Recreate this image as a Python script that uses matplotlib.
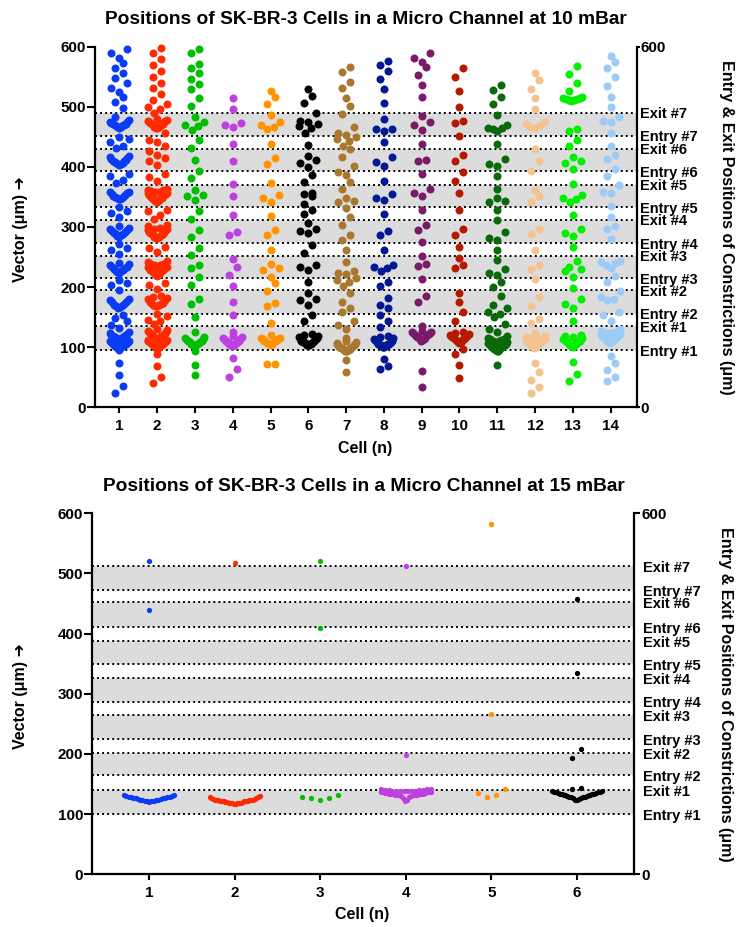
import numpy as np
import matplotlib
matplotlib.use("Agg")
import matplotlib.pyplot as plt
from matplotlib.ticker import FixedLocator, FuncFormatter

plt.rcParams['font.family'] = ['Liberation Sans', 'DejaVu Sans']
plt.rcParams['font.weight'] = 'bold'

# ---------------- data : 10 mBar ----------------
cells_10 = list(range(1, 15))
c10_1 = [24, 36, 54, 74,
         96, 98, 99, 100, 101, 101, 102, 103, 103, 104, 105, 105, 106, 107, 107, 108, 109, 110, 111, 112,
         114, 115, 116, 116, 117, 118, 119, 120, 121, 122, 123, 125,
         132, 137, 144, 148, 153,
         166, 167, 168, 170, 171, 173, 175, 177, 179, 181,
         195, 203, 207, 211,
         224, 225, 226, 227, 229, 230, 231, 233, 234, 236, 238, 240,
         255, 261, 265, 271,
         284, 285, 286, 288, 289, 290, 292, 293, 295, 297, 299, 301,
         316, 323, 327, 333,
         346, 347, 348, 349, 350, 351, 352, 353, 355, 356, 358, 359,
         374, 379, 385, 389,
         403, 404, 405, 406, 407, 408, 409, 410, 412, 413, 415, 417, 418,
         431, 435, 441, 446, 450,
         465, 466, 467, 468, 469, 469, 470, 471, 472, 473, 474, 475, 478,
         483, 498, 508, 517, 525, 531, 539, 548, 557, 565, 573, 581, 589, 596]
c10_2 = [40, 51, 68, 89,
         97, 98, 99, 99, 100, 100, 101, 101, 102, 102, 103, 103, 104, 104, 105, 105, 106, 106, 107, 107,
         108, 108, 109, 109, 110, 110, 111, 111, 112, 112, 113, 114, 114, 115, 116, 116, 117, 118, 118,
         119, 120, 120, 121, 122, 123, 124, 125, 126, 127, 128, 130,
         139, 143, 146, 152, 156,
         168, 169, 170, 171, 172, 173, 174, 176, 178, 180, 182, 184, 186,
         197, 204, 207,
         219, 220, 222, 223, 224, 225, 226, 227, 228, 229, 230, 231, 232, 233, 234, 235, 236, 237, 238,
         239, 241, 243,
         258, 265, 267,
         281, 282, 283, 284, 285, 286, 287, 288, 289, 290, 291, 292, 294, 295, 296, 297, 299, 301, 303,
         314, 320, 326, 328,
         342, 343, 344, 345, 346, 346, 347, 348, 348, 349, 350, 351, 352, 353, 354, 355, 356, 357, 358,
         359, 360, 361, 362, 364,
         377, 384, 389, 403, 409, 414, 420, 427, 435, 441, 445, 456,
         464, 465, 466, 467, 468, 469, 470, 471, 472, 473, 474, 475, 476, 477, 478, 480,
         490, 496, 500, 505, 511, 521, 531, 540, 549, 560, 570, 579, 589, 598]
c10_3 = [54, 70, 93,
         102, 103, 104, 105, 106, 107, 108, 109, 110, 111, 112, 113, 115, 117,
         126, 150, 172, 181, 203, 217, 232, 236, 253, 265, 283, 295, 314, 326, 345, 351, 353, 361,
         382, 394, 412, 432, 445, 461, 468, 470, 474, 483, 502, 515, 529, 538, 547, 557, 564, 572,
         589, 597]
c10_4 = [50, 63, 82,
         102, 103, 104, 104, 105, 106, 106, 107, 108, 108, 109, 110, 110, 111, 112, 113, 114, 115,
         116, 117, 118,
         126, 154, 176, 202, 220, 233, 246, 287, 291, 320, 351, 372, 409, 438, 467, 469, 473, 496, 514]
c10_5 = [72, 72.5,
         104, 105, 106, 107, 108, 109, 110, 111, 112, 113, 114, 115, 116,
         121, 141, 169, 174, 194, 206, 216, 229, 231, 239, 262, 287, 295, 318, 341, 349, 353, 373,
         404, 414, 438, 463, 467, 470, 474, 487, 504, 516, 526]
c10_6 = [103, 104, 104, 105, 105, 106, 106, 107, 107, 108, 108, 109, 109, 110, 110, 111, 112, 113,
         114, 115, 116, 117, 118, 121, 122,
         143, 154, 170, 179, 179.5, 191, 209, 229, 234, 237, 256, 270, 290, 293, 296, 306, 322, 328,
         338, 351, 355, 357, 375, 387, 400, 407, 412, 418, 437, 457, 464, 468, 471, 475, 477, 489,
         506, 518, 529]
c10_7 = [58, 78,
         93, 94, 94, 95, 95, 96, 96, 97, 97, 98, 98, 99, 99, 100, 100, 101, 102, 103, 104, 105, 106,
         107, 108, 110,
         115, 131, 137, 143, 159, 165, 176, 190, 201, 209, 211, 215, 221, 223, 226, 241, 261, 278,
         287, 303, 317, 331, 341, 343, 348, 364, 375, 387, 392, 402, 417, 430, 435, 443, 446, 449.5,
         453, 456, 467, 488, 502, 514, 531, 542, 558, 567]
c10_8 = [63, 68, 81,
         100, 101, 101, 102, 102, 103, 103, 104, 104, 105, 105, 106, 106, 107, 108, 109, 110, 111,
         112, 113, 114, 115, 117, 118,
         134, 143, 153, 166, 171, 182, 201, 209, 227, 231, 234, 237, 261, 286, 294, 321, 345, 348,
         355, 377, 402, 408, 417, 441, 460, 463, 463.5, 480, 507, 530, 547, 560, 570, 576]
c10_9 = [34, 61,
         111, 112, 113, 114, 115, 116, 117, 118, 119, 120, 121, 122, 123, 124, 125, 126, 127,
         135, 175, 186, 214, 235, 239, 251, 275, 295, 303, 329, 352, 356, 363, 388, 410, 411.5,
         438, 461, 469, 474, 485, 516, 536, 553, 566, 575, 582, 589]
c10_10 = [49, 70, 89, 97,
          107, 108, 109, 110, 111, 112, 113, 113, 114, 115, 116, 117, 118, 119, 120, 121, 122, 124, 126,
          144, 158, 175, 191, 231, 237, 249, 267, 287, 297, 328, 356, 377, 392, 410, 419, 451, 473,
          477, 499, 527, 549, 564]
c10_11 = [70,
          93, 94, 95, 96, 97, 98, 99, 100, 100, 101, 102, 103, 104, 104, 105, 106, 107, 108, 109, 110,
          111, 112, 113, 114, 116, 118,
          126, 131, 139, 151, 156, 159, 165, 170, 185, 200, 209, 220, 223, 230, 245, 262, 278, 282,
          291, 311, 328, 341, 342.5, 348, 364, 385, 402, 404, 413, 438, 460, 462.5, 464, 465.5, 469,
          486, 504, 517, 528, 537]
c10_12 = [23, 33, 46, 58, 73,
          99, 100, 101, 102, 103, 104, 104, 105, 106, 107, 108, 108, 109, 110, 111, 112, 113, 114,
          115, 116, 117, 118,
          123, 141, 147, 169, 184, 213, 230, 237, 261, 288, 297, 342, 351, 362, 394, 409, 430, 464,
          467, 469, 471, 475, 496, 514, 530, 545, 557]
c10_13 = [43, 55, 76,
          101, 102, 103, 104, 105, 106, 107, 108, 109, 110, 111, 112, 113, 114, 115, 117, 119, 121,
          143, 165, 172, 180, 198, 216, 227, 230, 234, 244, 266, 285, 290, 297, 320, 341, 346, 349,
          354, 372, 396, 406, 409, 416, 435, 444, 460, 463,
          510, 511, 512, 513, 513, 514, 515, 516,
          526, 540, 554, 568]
c10_14 = [43, 51, 62, 73, 85,
          107, 108, 109, 110, 111, 112, 113, 114, 115, 116, 117, 118, 119, 120, 121, 122, 123, 124,
          125, 127, 130,
          144, 154, 158, 179, 180.5, 184, 194, 209, 219, 231, 237, 240, 241.5, 244, 280, 296, 302,
          317, 335, 357, 359, 370, 385, 396, 413, 420, 434, 456, 474, 477, 483, 499, 517, 535, 550,
          564, 574, 585]
data_10 = [c10_1, c10_2, c10_3, c10_4, c10_5, c10_6, c10_7,
           c10_8, c10_9, c10_10, c10_11, c10_12, c10_13, c10_14]

# ---------------- data : 15 mBar ----------------
cells_15 = list(range(1, 7))
c15_1 = [120, 121, 121, 122, 122, 123, 123, 124, 124, 125, 125, 126, 126, 127, 127, 128, 128,
         129, 129, 130, 130, 131, 131, 440, 521]
c15_2 = [117, 117, 118, 118, 118, 119, 119, 119, 120, 120, 120, 121, 121, 121, 122, 122, 122,
         123, 123, 123, 124, 124, 124, 125, 125, 126, 127, 128, 129, 130, 517]
c15_3 = [123.4, 126.2, 126.2, 129.0, 131.2, 409, 521]
c15_4 = [121, 123, 126, 129, 130, 130, 131, 131, 131, 132, 132, 132, 133, 133, 133, 134, 134,
         134, 135, 135, 135, 136, 136, 136, 137, 137, 138, 138, 138, 139, 139, 139, 139, 140, 140,
         140, 140, 141, 141, 141, 198, 513]
c15_5 = [127.9, 131.7, 134.5, 141.7, 266, 583]
c15_6 = [123, 124, 125, 126, 127, 128, 128, 129, 129, 130, 130, 131, 131, 132, 132, 133, 133,
         134, 134, 135, 135, 136, 136, 137, 137, 138, 138, 141.5, 143, 194, 209, 334, 457]
data_15 = [c15_1, c15_2, c15_3, c15_4, c15_5, c15_6]

colors = ['#0A3CF5', '#FF2A00', '#00BF00', '#BF40E0', '#FF9300', '#000000', '#A9782E',
          '#011993', '#7A1A6A', '#B51A00', '#0A6A0A', '#F5C390', '#00F000', '#9DCBF7']

entry_10 = [95, 156, 215, 273, 333, 393, 452]
exit_10 = [135, 195, 252, 312, 370, 430, 490]
entry_15 = [100, 164.5, 224.5, 287, 349, 411, 472]
exit_15 = [139.6, 201.6, 264.7, 325.7, 387.7, 452, 512]

titles = ['Positions of SK-BR-3 Cells in a Micro Channel at 10 mBar',
          'Positions of SK-BR-3 Cells in a Micro Channel at 15 mBar']
ylabel_left = 'Vector (\u03bcm) \u279c'
ylabel_right = 'Entry & Exit Positions of Constrictions (\u03bcm)'
xlabel = 'Cell (n)'

FW, FH = 736, 927


def swarm_offsets(vals, pxy, d, h_px, cap, link):
    """Prism-like row scatter: returns horizontal offsets in pixels."""
    v = np.asarray(vals, float)
    order = np.argsort(v, kind='stable')
    sv = v[order]
    h = h_px / pxy
    groups = [[0]]
    for i in range(1, len(sv)):
        if sv[i] - sv[i - 1] <= link:
            groups[-1].append(i)
        else:
            groups.append([i])
    rows = []
    sparse = []

    def flush_sparse():
        j = 0
        while j < len(sparse):
            k = j
            while k < len(sparse) and sv[sparse[k]] - sv[sparse[j]] <= h:
                k += 1
            rows.append(sparse[j:k])
            j = k
        sparse.clear()

    for g in groups:
        if len(g) >= 5:
            flush_sparse()
            j = 0
            while j < len(g):
                k = j
                while k < len(g) and sv[g[k]] - sv[g[j]] <= h:
                    k += 1
                rows.append(g[j:k])
                j = k
        else:
            sparse.extend(g)
    flush_sparse()

    off = np.zeros(len(v))
    for r in rows:
        n = len(r)
        s = d if n == 1 else min(d, 2 * cap / (n - 1))
        for k, idx in enumerate(r):
            if n % 2:
                slot = 0 if k == 0 else ((k + 1) // 2) * (-1 if k % 2 else 1)
            else:
                slot = (k // 2 + 0.5) * (-1 if k % 2 == 0 else 1)
            off[order[idx]] = slot * s
    return off


def make_panel(fig, rect, cells, data, entry, exit_, xlim, ms_px, d, h_px, cap,
               tick_len_r, pad_minor):
    ax = fig.add_axes(rect)
    ax.set_xlim(*xlim)
    ax.set_ylim(0, 600)
    pxx = FW * rect[2] / (xlim[1] - xlim[0])
    pxy = FH * rect[3] / 600.0
    for lo, hi in zip(entry, exit_):
        ax.axhspan(lo, hi, color='#DCDCDC', lw=0, zorder=0)
    for yv in entry + exit_:
        ax.axhline(yv, color='black', lw=1.4, ls=(0, (1, 1.6)), zorder=1)
    s_pt = (ms_px * 72.0 / 100.0) ** 2
    for c, vals, col in zip(cells, data, colors):
        off = swarm_offsets(vals, pxy, d, h_px, cap, 3.1)
        ax.scatter(c + off / pxx, vals, s=s_pt, color=col, linewidths=0, zorder=3, clip_on=False)
    for sp in ['top', 'right']:
        ax.spines[sp].set_visible(False)
    for sp in ['left', 'bottom']:
        ax.spines[sp].set_linewidth(1.6)
    ax.set_yticks(range(0, 601, 100))
    ax.set_xticks(cells)
    ax.tick_params(axis='y', length=5.5, width=1.5, pad=1, labelsize=11)
    ax.tick_params(axis='x', length=4.5, width=1.5, pad=4, labelsize=11)

    ax2 = ax.twinx()
    ax2.set_ylim(0, 600)
    for sp in ['top', 'left', 'bottom']:
        ax2.spines[sp].set_visible(False)
    ax2.spines['right'].set_linewidth(1.6)
    ax2.yaxis.set_major_locator(FixedLocator([0, 600]))
    ax2.yaxis.set_major_formatter(FuncFormatter(lambda v, p: '%d' % round(v)))
    names = {}
    for i, (a, b) in enumerate(zip(entry, exit_)):
        names[round(a, 1)] = 'Entry #%d' % (i + 1)
        names[round(b, 1)] = 'Exit #%d' % (i + 1)
    ax2.yaxis.set_minor_locator(FixedLocator(sorted(names)))
    ax2.yaxis.set_minor_formatter(FuncFormatter(lambda v, p: names.get(round(v, 1), '')))
    ax2.tick_params(axis='y', which='major', length=tick_len_r, width=1.5, pad=0.5, labelsize=11)
    ax2.tick_params(axis='y', which='minor', length=0, pad=pad_minor, labelsize=10.5)
    return ax


fig = plt.figure(figsize=(FW / 100, FH / 100), dpi=100)

rect_top = [95 / FW, 1 - 407.3 / FH, 541.7 / FW, 360.6 / FH]
rect_bot = [92.3 / FW, 1 - 874.3 / FH, 542 / FW, 361 / FH]

make_panel(fig, rect_top, cells_10, data_10, entry_10, exit_10, (0.355, 14.69),
           8.0, 8.0, 9.6, 9.5, 2.5, 2.6)
make_panel(fig, rect_bot, cells_15, data_15, entry_15, exit_15, (0.335, 6.67),
           5.3, 9.0, 10.0, 25.0, 4.5, 6.0)

fig.text(365.5 / FW, 1 - 19.3 / FH, titles[0], ha='center', va='center', fontsize=13.8, fontweight='bold')
fig.text(364.2 / FW, 1 - 486.7 / FH, titles[1], ha='center', va='center', fontsize=13.8, fontweight='bold')
fig.text(20.7 / FW, 1 - 229 / FH, ylabel_left, rotation=90, ha='center', va='center', fontsize=11.5, fontweight='bold')
fig.text(20.7 / FW, 1 - 695.8 / FH, ylabel_left, rotation=90, ha='center', va='center', fontsize=11.5, fontweight='bold')
fig.text(726.7 / FW, 1 - 227.5 / FH, ylabel_right, rotation=270, ha='center', va='center', fontsize=11.5, fontweight='bold')
fig.text(726 / FW, 1 - 694 / FH, ylabel_right, rotation=270, ha='center', va='center', fontsize=11.5, fontweight='bold')
fig.text(365 / FW, 1 - 449 / FH, xlabel, ha='center', va='center', fontsize=11.5, fontweight='bold')
fig.text(362.5 / FW, 1 - 914 / FH, xlabel, ha='center', va='center', fontsize=11.5, fontweight='bold')

fig.savefig('out.png', dpi=100)
